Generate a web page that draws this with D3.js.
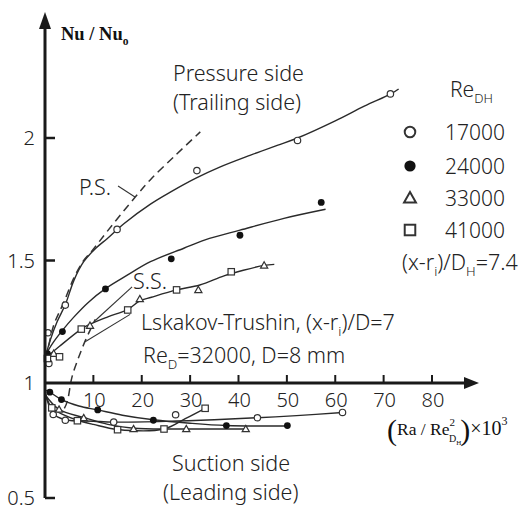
<!DOCTYPE html>
<html>
<head>
<meta charset="utf-8">
<script src="https://cdn.jsdelivr.net/npm/d3@7"></script>
<style>
  html, body { margin: 0; padding: 0; background: #fff; }
  svg { display: block; }
  .sans { font-family: "Noto Sans", "Open Sans", sans-serif; fill: #222; font-weight: 300; }
  .serif { font-family: "Liberation Serif", "DejaVu Serif", serif; fill: #111; }
</style>
</head>
<body>
<svg id="chart" width="526" height="510"></svg>
<script>
// ---- Axis ticks ----
const xTicks = [10, 20, 30, 40, 50, 60, 70, 80];
const yTickMarks = [0.5, 1.5, 2];
const yTickLabels = [0.5, 1, 1.5, 2];

// ---- Legend ----
const reValues = ["17000", "24000", "33000", "41000"];
const markerKinds = ["open", "filled", "triangle", "square"];

// ---- Pressure (trailing) side measurements: [Ra/Re² ×10³, Nu/Nu0] ----
const pressure17000 = [[0.6, 1.205], [0.8, 1.08], [4.2, 1.318], [14.9, 1.627], [31.4, 1.867], [52.2, 1.99], [71.4, 2.18]];
const pressure24000 = [[0.5, 1.12], [3.6, 1.21], [12.5, 1.384], [26.1, 1.507], [40.3, 1.603], [57.1, 1.737]];
const pressure33000 = [[1.8, 1.12], [9.3, 1.234], [19.6, 1.343], [31.7, 1.38], [45.3, 1.48]];
const pressure41000 = [[0.5, 1.10], [3.0, 1.107], [7.5, 1.22], [17.1, 1.298], [27.2, 1.38], [38.5, 1.454]];

// ---- Suction (leading) side measurements ----
const suction17000 = [[1.7, 0.863], [4.2, 0.838], [14.2, 0.83], [27.0, 0.862], [43.9, 0.849], [61.5, 0.872]];
const suction24000 = [[1.0, 0.96], [3.4, 0.928], [10.9, 0.883], [22.4, 0.838], [37.5, 0.815], [50.1, 0.815]];
const suction33000 = [[2.9, 0.885], [8.0, 0.848], [18.3, 0.80], [29.2, 0.80], [41.5, 0.80]];
const suction41000 = [[1.4, 0.892], [6.7, 0.836], [15.0, 0.797], [24.6, 0.80], [33.1, 0.89]];

// ---- Fitted curves through the measurements ----
const fitP17000 = [[0, 1.10], [1, 1.17], [2.5, 1.25], [4.2, 1.32], [6, 1.42], [8, 1.495], [10.5, 1.55], [12.9, 1.59], [16.3, 1.65], [21.8, 1.73], [26, 1.78], [31.1, 1.835], [36, 1.88], [42.5, 1.93], [48, 1.97], [52.2, 2.0], [60, 2.07], [66, 2.13], [71.5, 2.18], [73.1, 2.2]];
const fitP24000 = [[0, 1.11], [1.5, 1.16], [3.6, 1.215], [6, 1.27], [9, 1.33], [12.5, 1.385], [17, 1.44], [21.8, 1.495], [28.7, 1.55], [34, 1.59], [40.3, 1.624], [49.4, 1.672], [58, 1.709]];
const fitP33041 = [[0, 1.10], [3, 1.15], [7.5, 1.22], [9.3, 1.24], [13, 1.27], [17.1, 1.30], [19.6, 1.335], [22, 1.35], [27.2, 1.38], [32, 1.40], [37, 1.437], [41, 1.46], [45.3, 1.48], [47.4, 1.484]];
const fitS17000 = [[0, 0.96], [1.7, 0.866], [4.2, 0.84], [10, 0.834], [14.2, 0.83], [25, 0.833], [35, 0.84], [43.9, 0.849], [52, 0.858], [61.5, 0.872]];
const fitS24000 = [[0, 0.97], [1, 0.96], [3.4, 0.928], [7, 0.9], [10.9, 0.883], [16, 0.86], [22.4, 0.84], [30, 0.825], [37.5, 0.815], [50, 0.813]];
const fitS33000 = [[0, 0.95], [2.9, 0.885], [8, 0.85], [13, 0.82], [18.3, 0.803], [29.2, 0.80], [41.5, 0.80]];
const fitS41000 = [[0, 0.96], [1.4, 0.892], [4, 0.86], [6.7, 0.838], [10, 0.82], [15, 0.798], [24.6, 0.80], [29, 0.845], [33.1, 0.89]];

// ---- Lskakov-Trushin reference curves (dashed) ----
const lskakovPS = [[0.3, 1.10], [1.7, 1.23], [3.9, 1.33], [6, 1.43], [8, 1.50], [9.75, 1.54], [12.9, 1.62], [18.7, 1.76], [21.8, 1.83], [27, 1.93], [32.1, 2.025]];
const lskakovSS = [[4.0, 0.89], [4.6, 0.919], [5.6, 1.026], [7.0, 1.107], [8.4, 1.176], [10.4, 1.26]];

// ---- Scales ----
const svg = d3.select("#chart");
const x = d3.scaleLinear().domain([0, 80]).range([45, 432]);
const y = d3.scaleLinear().domain([0.5, 1, 2]).range([498, 383, 138]);

const ink = "#1a1a1a";
const lineGen = d3.line().x(d => x(d[0])).y(d => y(d[1])).curve(d3.curveCatmullRom.alpha(0.5));

// fitted curves
const solid = [fitP17000, fitP24000, fitP33041, fitS17000, fitS24000, fitS33000, fitS41000];
svg.append("g").selectAll("path").data(solid).join("path")
  .attr("d", lineGen).attr("fill", "none").attr("stroke", "#2a2a2a").attr("stroke-width", 1.4);

// Lskakov-Trushin curves
svg.append("g").selectAll("path").data([lskakovPS, lskakovSS]).join("path")
  .attr("d", lineGen).attr("fill", "none").attr("stroke", "#333")
  .attr("stroke-width", 1.5).attr("stroke-dasharray", "8,5");

// leader lines from annotations to curves
const leaders = [
  [[15.1, 1.804], [18.6, 1.759]],    // P.S.
  [[18.0, 1.392], [10.4, 1.255]],    // S.S.
  [[17.6, 1.28], [8.3, 1.168]]       // Lskakov-Trushin
];
svg.append("g").selectAll("line").data(leaders).join("line")
  .attr("x1", d => x(d[0][0])).attr("y1", d => y(d[0][1]))
  .attr("x2", d => x(d[1][0])).attr("y2", d => y(d[1][1]))
  .attr("stroke", "#333").attr("stroke-width", 1.1);

// ---- Markers ----
function drawMarker(g, kind, cx, cy, s) {
  if (kind === "open") {
    g.append("circle").attr("cx", cx).attr("cy", cy).attr("r", 3.2 * s)
      .attr("fill", "#fff").attr("stroke", "#333").attr("stroke-width", 1.2 * s);
  } else if (kind === "filled") {
    g.append("circle").attr("cx", cx).attr("cy", cy).attr("r", 3.4 * s).attr("fill", "#111");
  } else if (kind === "triangle") {
    const h = 3.6 * s;
    g.append("path").attr("d", `M${cx},${cy - h}L${cx + h},${cy + h * 0.75}L${cx - h},${cy + h * 0.75}Z`)
      .attr("fill", "#fff").attr("stroke", "#333").attr("stroke-width", 1.2 * s);
  } else {
    const h = 3.2 * s;
    g.append("rect").attr("x", cx - h).attr("y", cy - h).attr("width", 2 * h).attr("height", 2 * h)
      .attr("fill", "#fff").attr("stroke", "#333").attr("stroke-width", 1.2 * s);
  }
}
const markerSets = [
  [pressure17000, "open"], [pressure24000, "filled"], [pressure33000, "triangle"], [pressure41000, "square"],
  [suction17000, "open"], [suction24000, "filled"], [suction33000, "triangle"], [suction41000, "square"]
];
const gm = svg.append("g");
markerSets.forEach(([pts, kind]) => pts.forEach(p => drawMarker(gm, kind, x(p[0]), y(p[1]), 1)));

// ---- Axes ----
const ga = svg.append("g");
ga.append("line").attr("x1", x(0)).attr("x2", x(0)).attr("y1", y(0.5)).attr("y2", 24)
  .attr("stroke", ink).attr("stroke-width", 3);
ga.append("path").attr("d", `M${x(0)},12L${x(0) + 6},29L${x(0) - 6},29Z`).attr("fill", ink);
ga.append("line").attr("x1", x(0)).attr("x2", 468).attr("y1", y(1)).attr("y2", y(1))
  .attr("stroke", ink).attr("stroke-width", 3);
ga.append("path").attr("d", `M479,${y(1)}L464,${y(1) - 6}L464,${y(1) + 6}Z`).attr("fill", ink);

ga.selectAll(".yt").data(yTickMarks).join("line")
  .attr("x1", x(0)).attr("x2", x(0) + 10).attr("y1", d => y(d)).attr("y2", d => y(d))
  .attr("stroke", ink).attr("stroke-width", 2.5);
ga.selectAll(".xt").data(xTicks).join("line")
  .attr("x1", d => x(d)).attr("x2", d => x(d)).attr("y1", y(1)).attr("y2", y(1) - 8)
  .attr("stroke", ink).attr("stroke-width", 2);

ga.selectAll(".yl").data(yTickLabels).join("text").attr("class", "sans")
  .attr("x", 35).attr("y", d => y(d) + 7).attr("text-anchor", "end")
  .attr("font-size", 20).text(d => d3.format("")(d));
ga.selectAll(".xl").data(xTicks).join("text").attr("class", "sans")
  .attr("x", d => x(d) + 1).attr("y", y(1) + 24).attr("text-anchor", "middle")
  .attr("font-size", 20).text(d => d);

// Rich text helper: parts are [string, size, baselineOffset, dx]
function rich(cls, tx, ty, parts, extra) {
  const t = svg.append("text").attr("class", cls).attr("x", tx).attr("y", ty);
  if (extra) extra(t);
  let cur = 0;
  parts.forEach(([s, size, off, dx]) => {
    const ts = t.append("tspan").attr("font-size", size).attr("dy", (off || 0) - cur).text(s);
    if (dx) ts.attr("dx", dx);
    cur = off || 0;
  });
  return t;
}

// y axis title: Nu / Nu_o
rich("serif", 61, 40, [["Nu / Nu", 18.5, 0], ["o", 11.5, 5]], t => t.attr("font-weight", "bold"));

// x axis title: (Ra / Re²_DH) × 10³
rich("serif", 387, 440, [
  ["(", 30, 0], ["Ra / Re", 17.5, -5], ["2", 11, -14], ["D", 10, 2, -6], ["H", 7, 5],
  [")", 30, 0, -1], ["×10", 20, -5], ["3", 12, -15]
]);

// ---- Annotations ----
const F = 21.5;
const sub = (s, size) => [s, size * 0.62, size * 0.3];
rich("sans", 173, 81, [["Pressure side", F]]);
rich("sans", 173, 110, [["(Trailing side)", F]]);
rich("sans", 79, 195, [["P.S.", F]]);
rich("sans", 133, 289, [["S.S.", F]]);
rich("sans", 141, 330, [["Lskakov-Trushin, (x-r", F], sub("i", F), [")/D=7", F]]);
rich("sans", 143, 363, [["Re", F], sub("D", F), ["=32000, D=8 mm", F]]);
rich("sans", 172, 470.5, [["Suction side", F]]);
rich("sans", 163, 500, [["(Leading side)", F]]);
rich("sans", 402, 270, [["(x-r", F], sub("i", F), [")/D", F], sub("H", F), ["=7.4", F]]);

// ---- Legend ----
rich("sans", 450, 97, [["Re", 21], sub("DH", 21)]);
const legendRows = [132, 166, 198, 230];
reValues.forEach((v, i) => {
  drawMarker(svg, markerKinds[i], 410, legendRows[i], 1.65);
  svg.append("text").attr("class", "sans").attr("x", 445).attr("y", legendRows[i] + 8)
    .attr("font-size", 21).text(v);
});
</script>
</body>
</html>
